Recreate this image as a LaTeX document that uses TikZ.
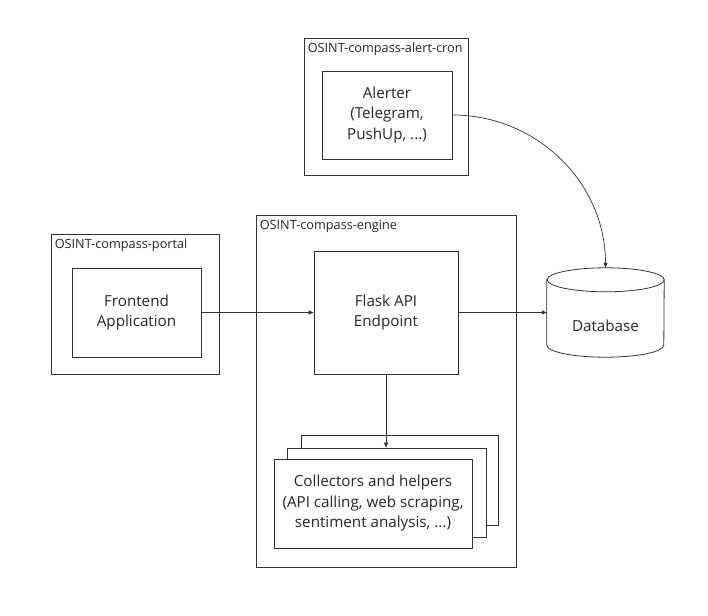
\documentclass[tikz,border=0pt]{standalone}
\usepackage{fontspec}
\setmainfont{Open Sans}
\usetikzlibrary{arrows.meta}
\begin{document}
\begin{tikzpicture}[x=1pt,y=-1pt,
		frame/.style={draw=black!80,line width=0.8pt,fill=white,inner sep=0pt},
		box/.style={frame,align=center,text=black!85,font=\fontsize{15.2}{20.5}\selectfont},
		tag/.style={anchor=base west,inner sep=0pt,text=black!85,font=\fontsize{12.7}{15}\selectfont},
		link/.style={black!80,line width=0.7pt,-{Triangle[length=5pt,width=4pt]}}]
	\useasboundingbox[fill=white] (0,0) rectangle (708,615);
	\node[frame,minimum width=164pt,minimum height=137pt] (cron) at (386,106.5) {};
	\node[tag] (crontag) at ([xshift=4pt,yshift=-15pt]cron.north west) {OSINT-compass-alert-cron};
	\node[box,minimum width=130pt,minimum height=88pt] (alerter) at (387,115) {Alerter\\(Telegram,\\PushUp, ...)};
	\node[frame,minimum width=168pt,minimum height=140pt] (portal) at (135,304) {};
	\node[tag] (portaltag) at ([xshift=4pt,yshift=-15pt]portal.north west) {OSINT-compass-portal};
	\node[box,minimum width=129pt,minimum height=89pt] (frontend) at (136.5,312.5) {Frontend\\Application};
	\node[frame,minimum width=260pt,minimum height=352pt] (engine) at (386,391) {};
	\node[tag] (enginetag) at ([xshift=4pt,yshift=-15pt]engine.north west) {OSINT-compass-engine};
	\node[box,minimum width=144pt,minimum height=123pt] (flask) at (386,312.5) {Flask API\\Endpoint};
	\node[frame,minimum width=197pt,minimum height=90pt] (helpersback) at (399.5,480) {};
	\node[frame,minimum width=199pt,minimum height=89pt] (helpersmid) at (386.5,492.5) {};
	\node[box,minimum width=198pt,minimum height=89pt] (helpers) at (373,503.5) {Collectors and helpers\\(API calling, web scraping,\\sentiment analysis, ...)};
	\node[minimum width=117pt,minimum height=89pt,inner sep=0pt] (db) at (605.5,312.5) {};
	\draw[frame] ([yshift=-12pt]db.north west) -- ([yshift=12pt]db.south west)
		arc[start angle=180,end angle=360,x radius=58.5pt,y radius=12pt]
		-- ([yshift=-12pt]db.north east)
		arc[start angle=0,end angle=180,x radius=58.5pt,y radius=12pt] -- cycle;
	\draw[frame,fill=none] ([yshift=-12pt]db.north east) arc[start angle=0,end angle=-180,x radius=58.5pt,y radius=12pt];
	\node[box,draw=none,fill=none] (dbtext) at ([yshift=-13pt]db.center) {Database};
	\draw[link] (frontend) -- (flask);
	\draw[link] (flask) -- (db);
	\draw[link] (flask) -- (flask.south |- helpersmid.north);
	\draw[link] (alerter) to[out=0,in=90] (db.north);
\end{tikzpicture}
\end{document}
